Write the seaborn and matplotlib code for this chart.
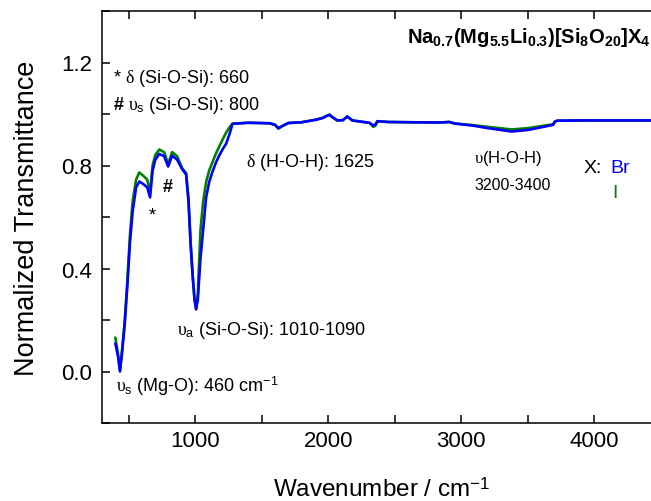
import numpy as np
import pandas as pd
import matplotlib
matplotlib.use("Agg")
import matplotlib.pyplot as plt
from matplotlib.ticker import MultipleLocator, FormatStrFormatter
import seaborn as sns

# ---- data ----
wavenumber = [400, 420, 435, 450, 470, 490, 510, 530, 556, 580, 610, 640, 661, 680, 700,
              730, 767, 797, 827, 864, 902, 932, 950, 965, 980, 995, 1007, 1020, 1040, 1060,
              1082, 1105, 1128, 1155, 1180, 1205, 1233, 1260, 1280, 1400, 1560, 1600, 1625,
              1650, 1700, 1800, 1910, 1960, 1990, 2010, 2030, 2068, 2110, 2143, 2181, 2250,
              2309, 2339, 2355, 2369, 2450, 2600, 2836, 2911, 2950, 3084, 3200, 3377, 3500,
              3588, 3663, 3690, 3701, 3720, 3900, 4200, 4500]

trans_Br = [0.109, 0.06, 0.0, 0.07, 0.18, 0.33, 0.50, 0.62, 0.715, 0.738, 0.728, 0.715, 0.676,
            0.78, 0.822, 0.845, 0.836, 0.796, 0.838, 0.823, 0.786, 0.765, 0.66, 0.50, 0.38,
            0.28, 0.241, 0.28, 0.44, 0.55, 0.675, 0.735, 0.773, 0.81, 0.838, 0.862, 0.885,
            0.925, 0.962, 0.966, 0.964, 0.958, 0.944, 0.952, 0.965, 0.968, 0.978, 0.985,
            0.993, 0.997, 0.988, 0.975, 0.976, 0.99, 0.975, 0.97, 0.966, 0.955, 0.96, 0.972,
            0.969, 0.968, 0.967, 0.969, 0.963, 0.955, 0.945, 0.932, 0.938, 0.947, 0.955,
            0.958, 0.97, 0.974, 0.975, 0.975, 0.975]

trans_I = [0.132, 0.07, 0.005, 0.08, 0.19, 0.35, 0.53, 0.66, 0.745, 0.773, 0.76, 0.745, 0.695,
           0.80, 0.84, 0.862, 0.852, 0.806, 0.852, 0.836, 0.79, 0.77, 0.67, 0.51, 0.38,
           0.28, 0.245, 0.30, 0.55, 0.66, 0.735, 0.78, 0.81, 0.845, 0.873, 0.90, 0.928,
           0.95, 0.962, 0.966, 0.964, 0.958, 0.944, 0.952, 0.965, 0.968, 0.978, 0.985,
           0.993, 0.997, 0.988, 0.975, 0.976, 0.99, 0.975, 0.97, 0.966, 0.95, 0.955, 0.972,
           0.969, 0.968, 0.967, 0.969, 0.963, 0.957, 0.95, 0.94, 0.945, 0.952, 0.958,
           0.96, 0.97, 0.974, 0.975, 0.975, 0.975]

series_names = ["I", "Br"]
series_colors = {"I": "#008000", "Br": "#0000ff"}

df = pd.concat([
    pd.DataFrame({"wn": wavenumber, "T": trans_I, "X": "I"}),
    pd.DataFrame({"wn": wavenumber, "T": trans_Br, "X": "Br"}),
], ignore_index=True)

# ---- style ----
sns.set_style("ticks")
plt.rcParams["font.family"] = ["Liberation Sans", "DejaVu Sans"]
plt.rcParams["mathtext.fontset"] = "custom"
plt.rcParams["mathtext.rm"] = "Liberation Sans"
plt.rcParams["mathtext.bf"] = "Liberation Sans:bold"
plt.rcParams["mathtext.it"] = "Liberation Serif"
plt.rcParams["mathtext.default"] = "it"
for key in ["text.color", "axes.labelcolor", "xtick.color", "ytick.color", "axes.edgecolor"]:
    plt.rcParams[key] = "black"

fig = plt.figure(figsize=(6.51, 5.02), dpi=100)
ax = fig.add_axes([102 / 651, 78 / 502, 559 / 651, 412 / 502])

sns.lineplot(data=df, x="wn", y="T", hue="X", hue_order=series_names,
             palette=series_colors, estimator=None, sort=False,
             linewidth=1.9, legend=False, ax=ax)

ax.set_xlim(300, 4500)
ax.set_ylim(-0.2, 1.4)
ax.xaxis.set_major_locator(MultipleLocator(1000))
ax.xaxis.set_minor_locator(MultipleLocator(500))
ax.yaxis.set_major_locator(MultipleLocator(0.4))
ax.yaxis.set_minor_locator(MultipleLocator(0.2))
ax.yaxis.set_major_formatter(FormatStrFormatter("%.1f"))

for s in ax.spines.values():
    s.set_linewidth(1.1)
    s.set_color("black")
ax.tick_params(which="both", direction="in", top=True, right=True,
               length=5.5, width=1.1, color="black")
ax.tick_params(axis="x", which="major", labelsize=16, pad=5, labelcolor="black")
ax.tick_params(axis="y", which="major", labelsize=16, pad=7, labelcolor="black")

ax.set_xlabel("Wavenumber / cm$^{\\mathrm{-1}}$", fontsize=17.5, labelpad=19, color="black")
ax.set_ylabel("Normalized Transmittance", fontsize=19.5, labelpad=15, color="black")

# ---- annotations ----
fs = 13
ax.text(383, 1.124, r"* $\delta$ (Si-O-Si): 660", fontsize=fs, ha="left", va="baseline")
ax.text(383, 1.019, r"$\mathbf{\#}$ $\upsilon_\mathrm{s}$ (Si-O-Si): 800", fontsize=fs,
        ha="left", va="baseline")
ax.text(676, 0.592, "*", fontsize=fs, ha="center", va="baseline")
ax.text(796, 0.701, "#", fontsize=fs, fontweight="bold", ha="center", va="baseline")
ax.text(1382, 0.798, r"$\delta$ (H-O-H): 1625", fontsize=fs, ha="left", va="baseline")
ax.text(863, 0.146, r"$\upsilon_\mathrm{a}$ (Si-O-Si): 1010-1090", fontsize=fs,
        ha="left", va="baseline")
ax.text(405, -0.076, r"$\upsilon_\mathrm{s}$ (Mg-O): 460 cm$^{\mathrm{-1}}$", fontsize=fs,
        ha="left", va="baseline")
ax.text(3095, 0.814, r"$\upsilon$(H-O-H)", fontsize=12, ha="left", va="baseline")
ax.text(3095, 0.709, "3200-3400", fontsize=11.5, ha="left", va="baseline")
ax.text(3921, 0.775, "X:", fontsize=14, ha="left", va="baseline")
ax.text(4117, 0.775, "Br", fontsize=14, ha="left", va="baseline", color=series_colors["Br"])
ax.text(4154, 0.678, "I", fontsize=14, ha="center", va="baseline", color=series_colors["I"])
ax.text(2591, 1.28,
        r"$\mathbf{Na_{0.7}(Mg_{5.5}Li_{0.3})[Si_{8}O_{20}]X_{4}}$",
        fontsize=14.5, ha="left", va="baseline")

fig.savefig("out.png", dpi=100)
